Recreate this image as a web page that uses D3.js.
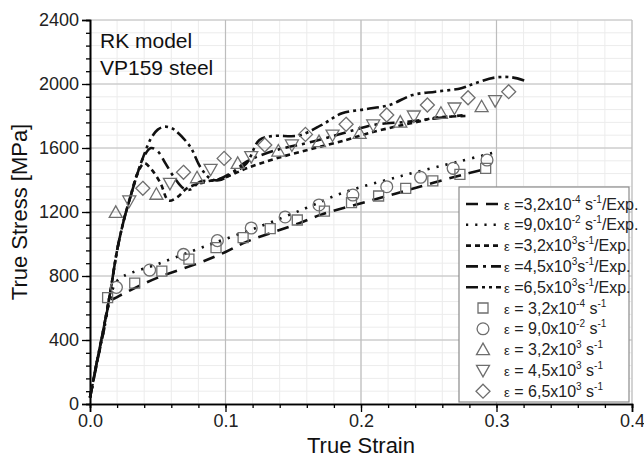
<!DOCTYPE html>
<html><head><meta charset="utf-8">
<script src="https://cdn.jsdelivr.net/npm/d3@7"></script>
<style>body{margin:0;background:#fff}svg{display:block}text{font-family:"Liberation Sans",Arial,sans-serif}</style>
</head><body><svg id="c" width="644" height="459"></svg>
<script>
// ---- data ----
const xTicks = [0.0, 0.1, 0.2, 0.3, 0.4];
const yTicks = [0, 400, 800, 1200, 1600, 2000, 2400];
const xTickLabels = ["0.0", "0.1", "0.2", "0.3", "0.4"];

// model curves (strain, stress)
const line_3_2e_4 = [[0,40],[0.005,250],[0.01,450],[0.015,640],[0.02,668],[0.03,712],[0.05,790],[0.08,880],[0.1,950],[0.115,1012],[0.155,1132],[0.17,1182],[0.21,1278],[0.24,1350],[0.275,1433],[0.292,1468]];
const line_9_0e_2 = [[0,40],[0.005,250],[0.01,450],[0.015,660],[0.019,760],[0.025,800],[0.05,875],[0.084,983],[0.125,1108],[0.159,1223],[0.186,1318],[0.228,1421],[0.272,1515],[0.3,1575]];
const line_3_2e3 = [[0,40],[0.005,260],[0.01,470],[0.015,700],[0.02,960],[0.025,1150],[0.03,1300],[0.035,1440],[0.04,1505],[0.045,1470],[0.052,1381],[0.058,1272],[0.065,1296],[0.0715,1348],[0.086,1390],[0.098,1410],[0.1155,1473],[0.1375,1535],[0.164,1595],[0.189,1650],[0.2055,1692],[0.225,1733],[0.242,1764],[0.255,1790],[0.278,1800]];
const line_4_5e3 = [[0,40],[0.005,260],[0.01,470],[0.015,700],[0.02,960],[0.025,1150],[0.03,1300],[0.035,1440],[0.04,1550],[0.045,1600],[0.05,1580],[0.0557,1504],[0.0618,1420],[0.069,1348],[0.074,1340],[0.0813,1390],[0.0935,1400],[0.1057,1452],[0.1155,1515],[0.1375,1587],[0.162,1635],[0.195,1712],[0.209,1744],[0.234,1764],[0.255,1785],[0.275,1805]];
const line_6_5e3 = [[0,40],[0.005,260],[0.01,470],[0.015,700],[0.02,960],[0.025,1150],[0.03,1300],[0.035,1440],[0.04,1560],[0.045,1660],[0.05,1715],[0.055,1733],[0.06,1725],[0.0642,1700],[0.074,1608],[0.0813,1483],[0.0886,1410],[0.095,1398],[0.105,1440],[0.1155,1504],[0.125,1650],[0.135,1675],[0.154,1678],[0.171,1744],[0.186,1817],[0.203,1842],[0.221,1869],[0.238,1931],[0.255,1952],[0.274,1973],[0.284,2004],[0.2987,2040],[0.311,2042],[0.323,2015]];

// experimental points
const sqX = [0.013,0.033,0.053,0.073,0.093,0.113,0.133,0.153,0.173,0.193,0.213,0.233,0.253,0.273,0.292];
const sqY = [665,755,831,906,977,1040,1096,1150,1206,1258,1300,1348,1394,1435,1473];
const ciX = [0.0195,0.044,0.069,0.094,0.119,0.144,0.169,0.194,0.219,0.244,0.268,0.293];
const ciY = [729,837,935,1021,1100,1169,1244,1306,1358,1417,1473,1525];
const trX = [0.019,0.049,0.079,0.109,0.139,0.169,0.199,0.229,0.259,0.289];
const trY = [1198,1311,1414,1504,1581,1640,1692,1762,1817,1858];
const itX = [0.029,0.059,0.089,0.119,0.149,0.179,0.209,0.239,0.269,0.299];
const itY = [1269,1379,1467,1546,1619,1681,1744,1800,1850,1896];
const diX = [0.039,0.069,0.099,0.129,0.159,0.189,0.219,0.249,0.279,0.309];
const diY = [1348,1448,1535,1619,1685,1748,1806,1869,1914,1952];

const lineLabels = [["3,2x10","-4"," s","-1","/Exp."],["9,0x10","-2"," s","-1","/Exp."],["3,2x10","3","s","-1","/Exp."],["4,5x10","3","s","-1","/Exp."],["6,5x10","3","s","-1","/Exp."]];
const markLabels = [["3,2x10","-4"," s","-1"],["9,0x10","-2"," s","-1"],["3,2x10","3"," s","-1"],["4,5x10","3"," s","-1"],["6,5x10","3"," s","-1"]];

// ---- drawing ----
const svg = d3.select("#c");
const L = 90, R = 632, T = 20, B = 404;
const x = d3.scaleLinear().domain([0, 0.4]).range([L, R]);
const y = d3.scaleLinear().domain([0, 2400]).range([B, T]);

const minorX = d3.range(0, 0.4001, 0.02);
const minorY = d3.range(0, 2400.1, 80);
const g = svg.append("g");
g.selectAll(".mx").data(minorX).enter().append("line")
  .attr("x1", d => x(d)).attr("x2", d => x(d)).attr("y1", T).attr("y2", B)
  .attr("stroke", "#ececec").attr("stroke-width", 1);
g.selectAll(".my").data(minorY).enter().append("line")
  .attr("y1", d => y(d)).attr("y2", d => y(d)).attr("x1", L).attr("x2", R)
  .attr("stroke", "#ececec").attr("stroke-width", 1);
g.selectAll(".gx").data(xTicks.slice(1)).enter().append("line")
  .attr("x1", d => x(d)).attr("x2", d => x(d)).attr("y1", T).attr("y2", B)
  .attr("stroke", "#bdbdbd").attr("stroke-width", 1.2);
g.selectAll(".gy").data(yTicks.slice(1)).enter().append("line")
  .attr("y1", d => y(d)).attr("y2", d => y(d)).attr("x1", L).attr("x2", R)
  .attr("stroke", "#bdbdbd").attr("stroke-width", 1.2);

// axes
const xAxisMinor = d3.axisBottom(x).tickValues(minorX).tickSize(4).tickFormat("");
const xAxis = d3.axisBottom(x).tickValues(xTicks).tickSize(8).tickPadding(2).tickFormat((d,i) => xTickLabels[i]);
const yAxisMinor = d3.axisLeft(y).tickValues(minorY).tickSize(4).tickFormat("");
const yAxis = d3.axisLeft(y).tickValues(yTicks).tickSize(8).tickPadding(3).tickFormat(d3.format("d"));
function styleAxis(sel){
  sel.select(".domain").attr("stroke","#000").attr("stroke-width",1.6);
  sel.selectAll(".tick line").attr("stroke","#000").attr("stroke-width",1.3);
  sel.selectAll(".tick text").attr("font-size",18).attr("fill","#222").style("font-family","'Liberation Sans',Arial,sans-serif");
}
svg.append("g").attr("transform",`translate(0,${B})`).call(xAxisMinor).call(styleAxis);
svg.append("g").attr("transform",`translate(0,${B})`).call(xAxis).call(styleAxis);
svg.append("g").attr("transform",`translate(${L},0)`).call(yAxisMinor).call(styleAxis);
svg.append("g").attr("transform",`translate(${L},0)`).call(yAxis).call(styleAxis);

// titles
svg.append("text").attr("x", 361).attr("y", 453).attr("text-anchor","middle").attr("font-size",22).attr("fill","#111").text("True Strain");
svg.append("text").attr("transform","translate(27,212) rotate(-90)").attr("text-anchor","middle").attr("font-size",22).attr("fill","#111").text("True Stress [MPa]");
svg.append("text").attr("x",100).attr("y",48).attr("font-size",21).attr("fill","#111").text("RK model");
svg.append("text").attr("x",100).attr("y",75).attr("font-size",21).attr("fill","#111").text("VP159 steel");

// lines
const dashes = ["12,8","2.2,7","5,4","12,5,3,5","12,4,3,4,3,4"];
const lines = [line_3_2e_4, line_9_0e_2, line_3_2e3, line_4_5e3, line_6_5e3];
const lg = d3.line().x(d => x(d[0])).y(d => y(d[1])).curve(d3.curveCatmullRom.alpha(0.5));
lines.forEach((ln,i) => {
  svg.append("path").attr("d", lg(ln)).attr("fill","none").attr("stroke","#111")
    .attr("stroke-width",2.6).attr("stroke-dasharray",dashes[i]).attr("stroke-linecap","butt");
});

// markers
const mk = [
  {t:"sq", xs:sqX, ys:sqY},{t:"ci", xs:ciX, ys:ciY},{t:"tr", xs:trX, ys:trY},{t:"it", xs:itX, ys:itY},{t:"di", xs:diX, ys:diY}];
function markerPath(t){
  if (t==="sq") return "M-5,-5H5V5H-5Z";
  if (t==="ci") return d3.symbol(d3.symbolCircle, 110)();
  if (t==="tr") return "M0,-6.5L6.5,5L-6.5,5Z";
  if (t==="it") return "M0,6.5L6.5,-5L-6.5,-5Z";
  if (t==="di") return "M0,-7L7,0L0,7L-7,0Z";
}
mk.forEach(m => {
  svg.append("g").selectAll("path").data(m.xs).enter().append("path")
    .attr("transform",(d,i)=>`translate(${x(d)},${y(m.ys[i])})`)
    .attr("d", markerPath(m.t)).attr("fill","none").attr("stroke","#6e6e6e").attr("stroke-width",1.3);
});

// legend
const lgG = svg.append("g");
lgG.append("rect").attr("x",459).attr("y",187).attr("width",170).attr("height",215)
  .attr("fill","#fff").attr("stroke","#8a8a8a").attr("stroke-width",1.2);
const rowY = d => 204 + d*20.8;
function addLabel(i, parts, eqSpace){
  const t = lgG.append("text").attr("x",504).attr("y",rowY(i)+5.5).attr("font-size",16).attr("fill","#222");
  t.append("tspan").attr("font-size",13).text("ε");
  t.append("tspan").text(eqSpace ? " = " + parts[0] : " =" + parts[0]);
  t.append("tspan").attr("font-size",10).attr("dy",-7).text(parts[1]);
  t.append("tspan").attr("dy",7).text(parts[2]);
  t.append("tspan").attr("font-size",10).attr("dy",-7).text(parts[3]);
  if (parts[4]) t.append("tspan").attr("dy",7).text(parts[4]);
}
lineLabels.forEach((p,i) => {
  lgG.append("line").attr("x1",466).attr("x2",501).attr("y1",rowY(i)).attr("y2",rowY(i))
    .attr("stroke","#111").attr("stroke-width",2.6).attr("stroke-dasharray",dashes[i]);
  addLabel(i,p,false);
});
markLabels.forEach((p,j) => {
  const i = j+5;
  lgG.append("path").attr("transform",`translate(483,${rowY(i)})`).attr("d",markerPath(mk[j].t))
    .attr("fill","none").attr("stroke","#6e6e6e").attr("stroke-width",1.3);
  addLabel(i,p,true);
});
</script></body></html>
